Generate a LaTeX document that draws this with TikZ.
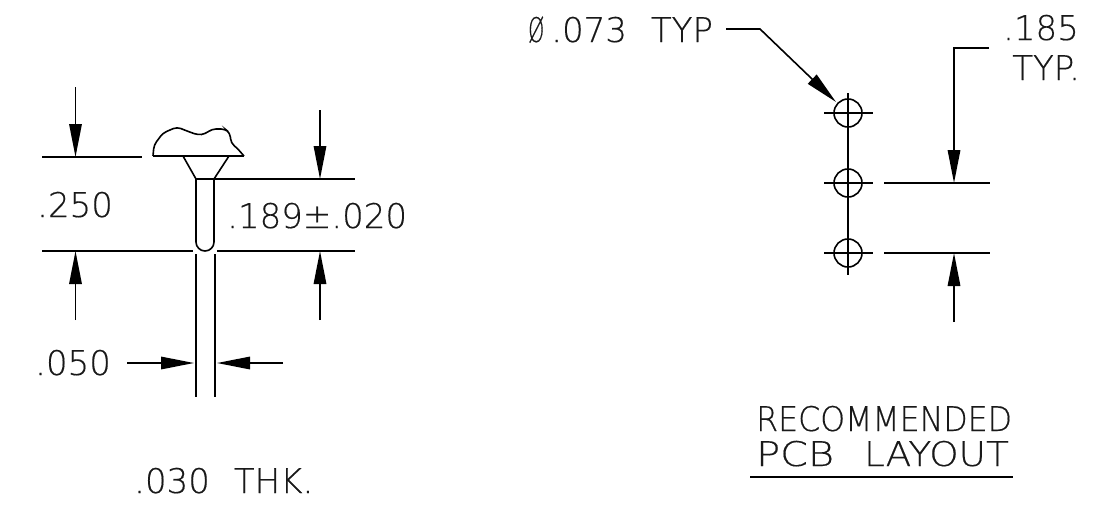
\documentclass[tikz,border=0pt]{standalone}
\usepackage{graphicx}
\usepackage{fontspec}
\setmainfont{DejaVu Sans}[UprightFont=* ExtraLight,FakeBold=0.4,AutoFakeBold=0.4]
\usetikzlibrary{arrows.meta}
\tikzset{
  ln/.style={line width=1.6pt,black},
  tipped/.style={ln,-{Triangle[length=33pt,width=12.5pt]}},
  lbl/.style={inner sep=0pt,anchor=base west,font=\fontsize{34}{34}\selectfont\bfseries,text=black!90},
  lblr/.style={lbl,anchor=base east},
}
\begin{document}
\begin{tikzpicture}[x=1pt,y=-1pt]
\useasboundingbox (0,0) rectangle (1115,504);
% coordinates
\coordinate (tl) at (75.5,87); \coordinate (tlt) at (75.5,157);
\coordinate (bl) at (75.5,320); \coordinate (blt) at (75.5,251);
\coordinate (tr) at (320,110); \coordinate (trt) at (320,179);
\coordinate (br) at (320,320); \coordinate (brt) at (320,251);
\coordinate (wl) at (127,363); \coordinate (wlt) at (194,363);
\coordinate (wr) at (283,363); \coordinate (wrt) at (217,363);
% part
\draw[ln] (42,157) -- (142,157);
\draw[ln] (42,251) -- (193,251);
\draw[ln] (217,251) -- (355,251);
\draw[ln] (196,179) -- (355,179);
\draw[ln] (153,156) -- (244,156);
\draw[ln,rounded corners=4pt] (153,156) -- (154,145) -- (163,133) -- (177,127) -- (187,131) -- (198,135) -- (205,134) -- (212,129) -- (225,129) -- (230,133) -- (231,143) -- (237,148) -- (244,156);
\draw[ln] (183,156) -- (196,179) (229,156) -- (214,179);
\draw[ln] (196,179) -- (196,242) arc[start angle=180,end angle=0,radius=9] -- (214,179);
\draw[ln] (196,254) -- (196,397) (215,254) -- (215,397);
\draw[tipped] (tl) -- (tlt);
\draw[tipped] (bl) -- (blt);
\draw[tipped] (tr) -- (trt);
\draw[tipped] (br) -- (brt);
\draw[tipped] (wl) -- (wlt);
\draw[tipped] (wr) -- (wrt);
\node[lbl] (t250) at (37,217) {.250};
\node[lbl] (t189) at (227,228) {.189±.020};
\node[lbl] (t050) at (35,375) {.050};
\node[lbl] (t030) at (134,493) {.030\hspace{24pt}THK.};
% PCB
\foreach \n/\y in {a/113,b/183,c/253}{
  \node[circle,draw,line width=1.6pt,minimum size=28pt,inner sep=0pt] (\n) at (848,\y) {};
  \draw[ln] (824,\y) -- (873,\y);
}
\draw[ln] (848,93) -- (848,275);
\draw[ln] (884,183) -- (990,183);
\draw[ln] (884,253) -- (990,253);
\coordinate (ltop) at (954,48); \coordinate (lc) at (989,48); \coordinate (ltip) at (954,183);
\draw[tipped] (lc) -- (ltop) -- (ltip);
\coordinate (ub) at (954,322); \coordinate (ubt) at (954,253);
\draw[tipped] (ub) -- (ubt);
\coordinate (ls) at (726,29); \coordinate (lk) at (760,29); \coordinate (lt) at (836,102);
\draw[tipped] (ls) -- (lk) -- (lt);
\node[lbl] (phi) at (528,42) {\scalebox{.6}[1]{Ø}\hspace{7pt}.073\hspace{24pt}TYP};
\node[lblr] (t185) at (1079,40) {.185};
\node[lblr] (typ) at (1080,80) {TYP.};
\node[lbl] (rec) at (756,431) {\scalebox{.93}[1]{RECOMMENDED}};
\node[lbl] (pcb) at (756,466) {\scalebox{1.17}[1]{PCB}\hspace{30pt}\scalebox{1.1}[1]{LAYOUT}};
\coordinate (u1) at (750,477); \coordinate (u2) at (1013,477);
\draw[ln] (u1) -- (u2);
\end{tikzpicture}
\end{document}
